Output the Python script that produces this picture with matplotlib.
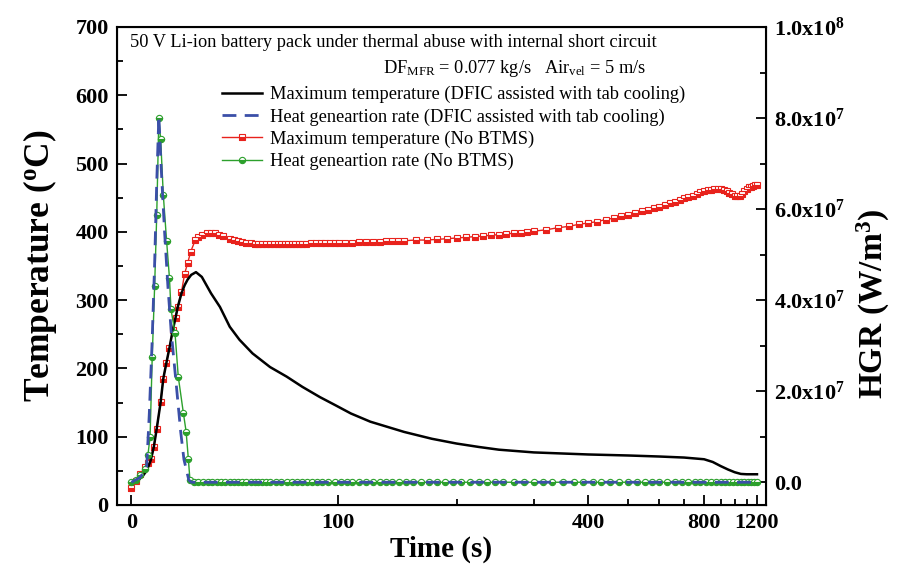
#Temperature and heat generation rate of the battery pack, two y axes

import matplotlib
matplotlib.use('Agg')
import matplotlib.pyplot as plt
import numpy as ny
from matplotlib.ticker import FixedLocator, FixedFormatter

plt.rcParams['font.family'] = 'Liberation Serif'
plt.rcParams['mathtext.fontset'] = 'custom'
plt.rcParams['mathtext.rm'] = 'Liberation Serif'
plt.rcParams['mathtext.it'] = 'Liberation Serif:italic'
plt.rcParams['mathtext.bf'] = 'Liberation Serif:bold'

#data

#max temperature, DFIC assisted with tab cooling (deg C)
t_dfic = [0, 2, 4, 5.5, 7, 8.2, 9.3, 10.8, 11.8, 13, 14.2, 15.5, 16.6, 17.5, 19, 20.3,
          21.5, 23, 25, 27.5, 31.5, 35.5, 40, 44.6, 51, 60, 69, 78, 88.6, 98.6, 109, 123,
          150, 175, 200, 225, 250, 300, 400, 500, 600, 700, 800, 850, 900, 950, 1000,
          1050, 1100, 1150, 1200]
temp_dfic = [32, 35, 42, 50, 65, 85, 112, 151, 185, 208, 230, 256, 274, 290, 310, 322,
             330, 337, 341, 334, 310, 290, 261, 242, 222, 202, 188, 173, 158, 146, 134, 122,
             107, 97, 90, 85, 81, 77, 74, 72.5, 71, 69.5, 67, 63, 57, 52, 48,
             45.5, 45, 45, 45]

#heat generation rate, DFIC assisted with tab cooling (W/m3)
t_hgr_dfic = [0, 3, 5.5, 6.5, 7.5, 8.5, 9.3, 10.1, 11, 12.3, 13.6, 14.9, 16.8, 18.7, 20,
              22, 23, 40, 100, 400, 1200]
hgr_dfic = [0.0, 0.1e7, 0.3e7, 1.5e7, 3.0e7, 4.8e7, 6.6e7, 8.05e7, 6.9e7, 5.5e7, 4.3e7,
            3.3e7, 2.2e7, 1.1e7, 0.5e7, 0.05e7, 0.0, 0.0, 0.0, 0.0, 0.0]

#max temperature, no BTMS (deg C)
t_nobtms = [0, 1.5, 3.1, 4.9, 6, 7.3, 8.2, 9.3, 10.8, 11.8, 13, 14.2, 15.5, 16.6, 17.5,
            19, 20.3, 21.5, 22.8, 24.7, 26, 27.5, 29.6, 31.5, 33.3, 35, 37, 40, 42, 44,
            46, 48, 50, 52, 54, 56, 58, 60, 62, 64, 66, 68, 70, 72, 74, 76, 78, 80, 83,
            86, 89, 92, 95, 98, 101, 105, 110, 115, 120, 125, 130, 135, 140, 145, 150,
            160, 170, 180, 190, 200, 210, 220, 230, 240, 250, 260, 270, 280, 290, 300,
            320, 340, 360, 380, 400, 420, 440, 460, 480, 500, 520, 540, 560, 580, 600,
            620, 640, 660, 680, 700, 720, 740, 760, 780, 800, 820, 840, 860, 880, 900,
            920, 940, 960, 980, 1000, 1020, 1040, 1060, 1080, 1100, 1120, 1140, 1160,
            1180, 1200]
temp_nobtms = [25, 35, 45, 55, 62, 68, 85, 112, 151, 185, 208, 230, 256, 274, 290,
               312, 339, 354, 371, 388, 393, 396, 398, 399, 398, 396, 394, 390, 388, 386,
               385, 383, 383, 382, 382, 382, 382, 382, 382, 382, 382, 382, 382, 382, 382,
               382, 382, 382, 383, 383, 383, 383, 383, 383, 384, 384, 384, 385, 385, 385,
               385, 386, 386, 386, 387,
               388, 388, 389, 390, 391, 392, 393, 394, 395, 396, 397, 398, 399, 400, 401,
               403, 406, 408, 411, 413, 415, 418, 420, 423, 425, 427, 430, 432, 435, 437,
               439, 442, 444, 447, 450, 451, 453, 456, 458, 460, 461, 462, 463, 463, 463,
               462, 460, 457, 455, 453, 452, 453, 456, 460, 463, 465, 466, 467,
               468, 469]

#heat generation rate, no BTMS (W/m3)
t_hgr_nobtms = [0, 1.5, 3.1, 4.9, 6, 6.8, 7.6, 8.5, 9.3, 10.1, 10.8, 11.8, 13.1, 14.2,
                14.8, 16.4, 17.7, 19.8, 20.9, 21.8, 22.5,
                24, 26, 28, 30, 32, 34, 36, 38, 40, 42, 44, 46, 48, 50, 52, 54, 56, 58, 60,
                63, 66, 69, 72, 75, 78, 81, 84, 87, 90, 94, 98, 102, 106, 110, 115, 120,
                125, 130, 135, 140, 146, 152, 158, 165, 172, 180, 188, 196, 205, 215, 225,
                235, 245, 255, 270, 285, 300, 315, 330, 350, 370, 390, 410, 430, 450, 475,
                500, 525, 550, 575, 600, 630, 660, 690, 720, 750, 780, 810, 840, 870, 900,
                930, 960, 990, 1020, 1050, 1080, 1110, 1140, 1170, 1200]
hgr_nobtms = [0.0, 0.05e7, 0.15e7, 0.3e7, 0.6e7, 1.0e7, 2.76e7, 4.3e7, 5.88e7, 8.0e7,
              7.53e7, 6.32e7, 5.29e7, 4.49e7, 3.8e7, 3.28e7, 2.32e7, 1.51e7, 1.11e7,
              0.52e7, 0.04e7,
              0, 0, 0, 0, 0, 0, 0, 0, 0, 0, 0, 0, 0, 0, 0, 0, 0, 0, 0,
              0, 0, 0, 0, 0, 0, 0, 0, 0, 0, 0, 0, 0, 0, 0, 0, 0,
              0, 0, 0, 0, 0, 0, 0, 0, 0, 0, 0, 0, 0, 0, 0,
              0, 0, 0, 0, 0, 0, 0, 0, 0, 0, 0, 0, 0, 0, 0,
              0, 0, 0, 0, 0, 0, 0, 0, 0, 0, 0, 0, 0, 0, 0,
              0, 0, 0, 0, 0, 0, 0, 0, 0, 0]

x_major = [0, 100, 400, 800, 1200]
x_minor = [200, 300, 500, 600, 700, 900, 1000, 1100]
hgr_ticks = [0, 2e7, 4e7, 6e7, 8e7, 1e8]
hgr_labels = ['0.0', r'2.0x10$^{\mathbf{7}}$', r'4.0x10$^{\mathbf{7}}$',
              r'6.0x10$^{\mathbf{7}}$', r'8.0x10$^{\mathbf{7}}$', r'1.0x10$^{\mathbf{8}}$']

#time axis is an offset reciprocal scale (like origin)
OFF = 272.0
def fwd(x):
    with ny.errstate(divide='ignore', invalid='ignore'):
        return -1.0/(ny.asarray(x, dtype=float) + OFF)
def inv(y):
    with ny.errstate(divide='ignore', invalid='ignore'):
        return -1.0/ny.asarray(y, dtype=float) - OFF

fig = plt.figure(figsize=(8.97, 5.86), dpi=100)
ax = fig.add_axes([117/897, 1-505/586, 649/897, 478/586])
ax2 = ax.twinx()

ax.plot(t_nobtms, temp_nobtms, color='#e8221c', lw=1, marker='s', ms=4.5,
        fillstyle='bottom', markerfacecoloralt='white', mec='#e8221c', mew=0.8,
        label='Maximum temperature (No BTMS)')
ax.plot(t_dfic, temp_dfic, 'k-', lw=1.8, label='Maximum temperature (DFIC assisted with tab cooling)')

ax2.plot(t_hgr_nobtms, hgr_nobtms, color='#2ca02c', lw=1, marker='o', ms=4.5,
         fillstyle='bottom', markerfacecoloralt='white', mec='#2ca02c', mew=0.8,
         label='Heat geneartion rate (No BTMS)')
ax2.plot(t_hgr_dfic, hgr_dfic, color='#3b4fa8', lw=2, dashes=(5, 3),
         label='Heat geneartion rate (DFIC assisted with tab cooling)')

ax.set_xscale('function', functions=(fwd, inv))
ax.set_xlim(-5, 1300)
ax.set_ylim(0, 700)
ax2.set_ylim(-5e6, 1e8)

ax.xaxis.set_major_locator(FixedLocator(x_major))
ax.xaxis.set_major_formatter(FixedFormatter([str(v) for v in x_major]))
ax.xaxis.set_minor_locator(FixedLocator(x_minor))
ax.yaxis.set_major_locator(FixedLocator(range(0, 701, 100)))
ax.yaxis.set_minor_locator(FixedLocator(range(50, 700, 100)))
ax2.yaxis.set_major_locator(FixedLocator(hgr_ticks))
ax2.yaxis.set_major_formatter(FixedFormatter(hgr_labels))
ax2.yaxis.set_minor_locator(FixedLocator([1e7, 3e7, 5e7, 7e7, 9e7]))

ax.tick_params(which='both', direction='in', width=1.3, top=False, right=False,
               labelsize=16, pad=6)
ax.tick_params(which='major', length=7)
ax.tick_params(which='minor', length=4)
ax2.tick_params(which='both', direction='in', width=1.3, labelsize=16, pad=6)
ax2.tick_params(which='major', length=7)
ax2.tick_params(which='minor', length=4)
for lab in ax.get_xticklabels() + ax.get_yticklabels() + ax2.get_yticklabels():
    lab.set_fontweight('bold')
for sp in ax2.spines.values():
    sp.set_linewidth(1.5)

ax.set_xlabel('Time (s)', fontsize=21, fontweight='bold', labelpad=2)
ax.set_ylabel(r'Temperature ($^{\mathbf{o}}$C)', fontsize=25.5, fontweight='bold', labelpad=12)
ax2.set_ylabel(r'HGR (W/m$^{\mathbf{3}}$)', fontsize=24, fontweight='bold')
ax2.yaxis.set_label_coords(1.137, 0.42)

ax.text(0.02, 0.9686, '50 V Li-ion battery pack under thermal abuse with internal short circuit',
        transform=ax.transAxes, fontsize=13.2, va='center', ha='left')
ax.text(0.41, 0.914, r'DF$_{\mathregular{MFR}}$ = 0.077 kg/s   Air$_{\mathregular{vel}}$ = 5 m/s',
        transform=ax.transAxes, fontsize=13.2, va='center', ha='left')

h1, l1 = ax.get_legend_handles_labels()
h2, l2 = ax2.get_legend_handles_labels()
handles = [h1[1], h2[1], h1[0], h2[0]]
labels = [l1[1], l2[1], l1[0], l2[0]]
ax2.legend(handles, labels, loc='upper left', bbox_to_anchor=(0.150, 0.892), frameon=False,
           fontsize=13.2, handlelength=2.2, handletextpad=0.45, labelspacing=0.275,
           borderaxespad=0, numpoints=1)

fig.savefig('out.png', dpi=100)
